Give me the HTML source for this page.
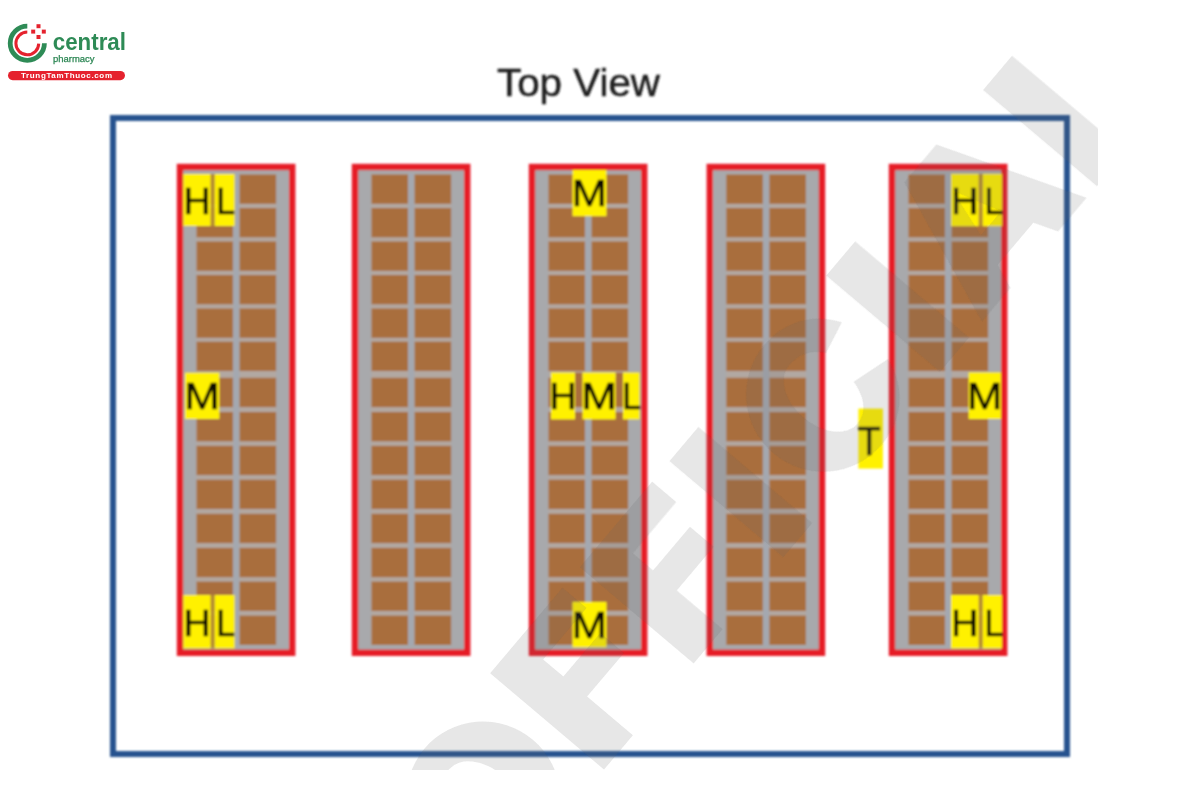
<!DOCTYPE html>
<html><head><meta charset="utf-8">
<style>
html,body{margin:0;padding:0;background:#fff;}
body{width:1200px;height:800px;overflow:hidden;position:relative;font-family:"Liberation Sans",sans-serif;}
svg{position:absolute;left:0;top:0;}
.lb text{font-family:"Liberation Sans",sans-serif;font-size:37.5px;fill:#0c0a00;stroke:#0c0a00;stroke-width:0.7px;}
</style></head><body>
<svg width="1200" height="800" viewBox="0 0 1200 800">
<defs>
<clipPath id="wmclip"><rect x="0" y="0" width="1097.5" height="770"/></clipPath>
<clipPath id="rk5"><rect x="880" y="160" width="121.9" height="500"/></clipPath>
<filter id="soft" x="-5%" y="-5%" width="110%" height="110%"><feGaussianBlur stdDeviation="0.8"/></filter>
<filter id="soft2" x="-5%" y="-5%" width="110%" height="110%"><feGaussianBlur stdDeviation="0.4"/></filter>
</defs>
<g filter="url(#soft)">
<text x="497" y="95.5" font-family="Liberation Sans, sans-serif" font-size="39" fill="#1c1c1c" stroke="#1c1c1c" stroke-width="0.5" textLength="163" lengthAdjust="spacingAndGlyphs">Top View</text>
<rect x="113" y="118" width="954" height="636" fill="none" stroke="#27538f" stroke-width="6"/>
<rect x="180" y="167" width="112.2" height="485.8" fill="#a8a9ac" stroke="#e61c25" stroke-width="6.4"/>
<rect x="196.5" y="174.5" width="79.6" height="470.4" fill="#b2a8a2"/>
<rect x="233.0" y="173.5" width="6.6" height="472.4" fill="#a4a8b0"/>
<rect x="196.5" y="174.5" width="36.5" height="29.3" fill="#a96e3e"/>
<rect x="239.6" y="174.5" width="36.5" height="29.3" fill="#a96e3e"/>
<rect x="196.5" y="208" width="36.5" height="29.3" fill="#a96e3e"/>
<rect x="239.6" y="208" width="36.5" height="29.3" fill="#a96e3e"/>
<rect x="196.5" y="241.5" width="36.5" height="29.3" fill="#a96e3e"/>
<rect x="239.6" y="241.5" width="36.5" height="29.3" fill="#a96e3e"/>
<rect x="196.5" y="275" width="36.5" height="29.3" fill="#a96e3e"/>
<rect x="239.6" y="275" width="36.5" height="29.3" fill="#a96e3e"/>
<rect x="196.5" y="308.5" width="36.5" height="29.3" fill="#a96e3e"/>
<rect x="239.6" y="308.5" width="36.5" height="29.3" fill="#a96e3e"/>
<rect x="196.5" y="341.7" width="36.5" height="29.3" fill="#a96e3e"/>
<rect x="239.6" y="341.7" width="36.5" height="29.3" fill="#a96e3e"/>
<rect x="196.5" y="377.8" width="36.5" height="29.3" fill="#a96e3e"/>
<rect x="239.6" y="377.8" width="36.5" height="29.3" fill="#a96e3e"/>
<rect x="196.5" y="412" width="36.5" height="29.3" fill="#a96e3e"/>
<rect x="239.6" y="412" width="36.5" height="29.3" fill="#a96e3e"/>
<rect x="196.5" y="445.8" width="36.5" height="29.3" fill="#a96e3e"/>
<rect x="239.6" y="445.8" width="36.5" height="29.3" fill="#a96e3e"/>
<rect x="196.5" y="479.7" width="36.5" height="29.3" fill="#a96e3e"/>
<rect x="239.6" y="479.7" width="36.5" height="29.3" fill="#a96e3e"/>
<rect x="196.5" y="513.8" width="36.5" height="29.3" fill="#a96e3e"/>
<rect x="239.6" y="513.8" width="36.5" height="29.3" fill="#a96e3e"/>
<rect x="196.5" y="547.9" width="36.5" height="29.3" fill="#a96e3e"/>
<rect x="239.6" y="547.9" width="36.5" height="29.3" fill="#a96e3e"/>
<rect x="196.5" y="581.6" width="36.5" height="29.3" fill="#a96e3e"/>
<rect x="239.6" y="581.6" width="36.5" height="29.3" fill="#a96e3e"/>
<rect x="196.5" y="615.6" width="36.5" height="29.3" fill="#a96e3e"/>
<rect x="239.6" y="615.6" width="36.5" height="29.3" fill="#a96e3e"/>
<rect x="355" y="167" width="112.2" height="485.8" fill="#a8a9ac" stroke="#e61c25" stroke-width="6.4"/>
<rect x="371.5" y="174.5" width="79.6" height="470.4" fill="#b2a8a2"/>
<rect x="408.0" y="173.5" width="6.6" height="472.4" fill="#a4a8b0"/>
<rect x="371.5" y="174.5" width="36.5" height="29.3" fill="#a96e3e"/>
<rect x="414.6" y="174.5" width="36.5" height="29.3" fill="#a96e3e"/>
<rect x="371.5" y="208" width="36.5" height="29.3" fill="#a96e3e"/>
<rect x="414.6" y="208" width="36.5" height="29.3" fill="#a96e3e"/>
<rect x="371.5" y="241.5" width="36.5" height="29.3" fill="#a96e3e"/>
<rect x="414.6" y="241.5" width="36.5" height="29.3" fill="#a96e3e"/>
<rect x="371.5" y="275" width="36.5" height="29.3" fill="#a96e3e"/>
<rect x="414.6" y="275" width="36.5" height="29.3" fill="#a96e3e"/>
<rect x="371.5" y="308.5" width="36.5" height="29.3" fill="#a96e3e"/>
<rect x="414.6" y="308.5" width="36.5" height="29.3" fill="#a96e3e"/>
<rect x="371.5" y="341.7" width="36.5" height="29.3" fill="#a96e3e"/>
<rect x="414.6" y="341.7" width="36.5" height="29.3" fill="#a96e3e"/>
<rect x="371.5" y="377.8" width="36.5" height="29.3" fill="#a96e3e"/>
<rect x="414.6" y="377.8" width="36.5" height="29.3" fill="#a96e3e"/>
<rect x="371.5" y="412" width="36.5" height="29.3" fill="#a96e3e"/>
<rect x="414.6" y="412" width="36.5" height="29.3" fill="#a96e3e"/>
<rect x="371.5" y="445.8" width="36.5" height="29.3" fill="#a96e3e"/>
<rect x="414.6" y="445.8" width="36.5" height="29.3" fill="#a96e3e"/>
<rect x="371.5" y="479.7" width="36.5" height="29.3" fill="#a96e3e"/>
<rect x="414.6" y="479.7" width="36.5" height="29.3" fill="#a96e3e"/>
<rect x="371.5" y="513.8" width="36.5" height="29.3" fill="#a96e3e"/>
<rect x="414.6" y="513.8" width="36.5" height="29.3" fill="#a96e3e"/>
<rect x="371.5" y="547.9" width="36.5" height="29.3" fill="#a96e3e"/>
<rect x="414.6" y="547.9" width="36.5" height="29.3" fill="#a96e3e"/>
<rect x="371.5" y="581.6" width="36.5" height="29.3" fill="#a96e3e"/>
<rect x="414.6" y="581.6" width="36.5" height="29.3" fill="#a96e3e"/>
<rect x="371.5" y="615.6" width="36.5" height="29.3" fill="#a96e3e"/>
<rect x="414.6" y="615.6" width="36.5" height="29.3" fill="#a96e3e"/>
<rect x="532" y="167" width="112.2" height="485.8" fill="#a8a9ac" stroke="#e61c25" stroke-width="6.4"/>
<rect x="548.5" y="174.5" width="79.6" height="470.4" fill="#b2a8a2"/>
<rect x="585.0" y="173.5" width="6.6" height="472.4" fill="#a4a8b0"/>
<rect x="548.5" y="174.5" width="36.5" height="29.3" fill="#a96e3e"/>
<rect x="591.6" y="174.5" width="36.5" height="29.3" fill="#a96e3e"/>
<rect x="548.5" y="208" width="36.5" height="29.3" fill="#a96e3e"/>
<rect x="591.6" y="208" width="36.5" height="29.3" fill="#a96e3e"/>
<rect x="548.5" y="241.5" width="36.5" height="29.3" fill="#a96e3e"/>
<rect x="591.6" y="241.5" width="36.5" height="29.3" fill="#a96e3e"/>
<rect x="548.5" y="275" width="36.5" height="29.3" fill="#a96e3e"/>
<rect x="591.6" y="275" width="36.5" height="29.3" fill="#a96e3e"/>
<rect x="548.5" y="308.5" width="36.5" height="29.3" fill="#a96e3e"/>
<rect x="591.6" y="308.5" width="36.5" height="29.3" fill="#a96e3e"/>
<rect x="548.5" y="341.7" width="36.5" height="29.3" fill="#a96e3e"/>
<rect x="591.6" y="341.7" width="36.5" height="29.3" fill="#a96e3e"/>
<rect x="548.5" y="377.8" width="36.5" height="29.3" fill="#a96e3e"/>
<rect x="591.6" y="377.8" width="36.5" height="29.3" fill="#a96e3e"/>
<rect x="548.5" y="412" width="36.5" height="29.3" fill="#a96e3e"/>
<rect x="591.6" y="412" width="36.5" height="29.3" fill="#a96e3e"/>
<rect x="548.5" y="445.8" width="36.5" height="29.3" fill="#a96e3e"/>
<rect x="591.6" y="445.8" width="36.5" height="29.3" fill="#a96e3e"/>
<rect x="548.5" y="479.7" width="36.5" height="29.3" fill="#a96e3e"/>
<rect x="591.6" y="479.7" width="36.5" height="29.3" fill="#a96e3e"/>
<rect x="548.5" y="513.8" width="36.5" height="29.3" fill="#a96e3e"/>
<rect x="591.6" y="513.8" width="36.5" height="29.3" fill="#a96e3e"/>
<rect x="548.5" y="547.9" width="36.5" height="29.3" fill="#a96e3e"/>
<rect x="591.6" y="547.9" width="36.5" height="29.3" fill="#a96e3e"/>
<rect x="548.5" y="581.6" width="36.5" height="29.3" fill="#a96e3e"/>
<rect x="591.6" y="581.6" width="36.5" height="29.3" fill="#a96e3e"/>
<rect x="548.5" y="615.6" width="36.5" height="29.3" fill="#a96e3e"/>
<rect x="591.6" y="615.6" width="36.5" height="29.3" fill="#a96e3e"/>
<rect x="709.8" y="167" width="112.2" height="485.8" fill="#a8a9ac" stroke="#e61c25" stroke-width="6.4"/>
<rect x="726.3" y="174.5" width="79.6" height="470.4" fill="#b2a8a2"/>
<rect x="762.8" y="173.5" width="6.6" height="472.4" fill="#a4a8b0"/>
<rect x="726.3" y="174.5" width="36.5" height="29.3" fill="#a96e3e"/>
<rect x="769.4" y="174.5" width="36.5" height="29.3" fill="#a96e3e"/>
<rect x="726.3" y="208" width="36.5" height="29.3" fill="#a96e3e"/>
<rect x="769.4" y="208" width="36.5" height="29.3" fill="#a96e3e"/>
<rect x="726.3" y="241.5" width="36.5" height="29.3" fill="#a96e3e"/>
<rect x="769.4" y="241.5" width="36.5" height="29.3" fill="#a96e3e"/>
<rect x="726.3" y="275" width="36.5" height="29.3" fill="#a96e3e"/>
<rect x="769.4" y="275" width="36.5" height="29.3" fill="#a96e3e"/>
<rect x="726.3" y="308.5" width="36.5" height="29.3" fill="#a96e3e"/>
<rect x="769.4" y="308.5" width="36.5" height="29.3" fill="#a96e3e"/>
<rect x="726.3" y="341.7" width="36.5" height="29.3" fill="#a96e3e"/>
<rect x="769.4" y="341.7" width="36.5" height="29.3" fill="#a96e3e"/>
<rect x="726.3" y="377.8" width="36.5" height="29.3" fill="#a96e3e"/>
<rect x="769.4" y="377.8" width="36.5" height="29.3" fill="#a96e3e"/>
<rect x="726.3" y="412" width="36.5" height="29.3" fill="#a96e3e"/>
<rect x="769.4" y="412" width="36.5" height="29.3" fill="#a96e3e"/>
<rect x="726.3" y="445.8" width="36.5" height="29.3" fill="#a96e3e"/>
<rect x="769.4" y="445.8" width="36.5" height="29.3" fill="#a96e3e"/>
<rect x="726.3" y="479.7" width="36.5" height="29.3" fill="#a96e3e"/>
<rect x="769.4" y="479.7" width="36.5" height="29.3" fill="#a96e3e"/>
<rect x="726.3" y="513.8" width="36.5" height="29.3" fill="#a96e3e"/>
<rect x="769.4" y="513.8" width="36.5" height="29.3" fill="#a96e3e"/>
<rect x="726.3" y="547.9" width="36.5" height="29.3" fill="#a96e3e"/>
<rect x="769.4" y="547.9" width="36.5" height="29.3" fill="#a96e3e"/>
<rect x="726.3" y="581.6" width="36.5" height="29.3" fill="#a96e3e"/>
<rect x="769.4" y="581.6" width="36.5" height="29.3" fill="#a96e3e"/>
<rect x="726.3" y="615.6" width="36.5" height="29.3" fill="#a96e3e"/>
<rect x="769.4" y="615.6" width="36.5" height="29.3" fill="#a96e3e"/>
<rect x="892" y="167" width="112.2" height="485.8" fill="#a8a9ac" stroke="#e61c25" stroke-width="6.4"/>
<rect x="908.5" y="174.5" width="79.6" height="470.4" fill="#b2a8a2"/>
<rect x="945.0" y="173.5" width="6.6" height="472.4" fill="#a4a8b0"/>
<rect x="908.5" y="174.5" width="36.5" height="29.3" fill="#a96e3e"/>
<rect x="951.6" y="174.5" width="36.5" height="29.3" fill="#a96e3e"/>
<rect x="908.5" y="208" width="36.5" height="29.3" fill="#a96e3e"/>
<rect x="951.6" y="208" width="36.5" height="29.3" fill="#a96e3e"/>
<rect x="908.5" y="241.5" width="36.5" height="29.3" fill="#a96e3e"/>
<rect x="951.6" y="241.5" width="36.5" height="29.3" fill="#a96e3e"/>
<rect x="908.5" y="275" width="36.5" height="29.3" fill="#a96e3e"/>
<rect x="951.6" y="275" width="36.5" height="29.3" fill="#a96e3e"/>
<rect x="908.5" y="308.5" width="36.5" height="29.3" fill="#a96e3e"/>
<rect x="951.6" y="308.5" width="36.5" height="29.3" fill="#a96e3e"/>
<rect x="908.5" y="341.7" width="36.5" height="29.3" fill="#a96e3e"/>
<rect x="951.6" y="341.7" width="36.5" height="29.3" fill="#a96e3e"/>
<rect x="908.5" y="377.8" width="36.5" height="29.3" fill="#a96e3e"/>
<rect x="951.6" y="377.8" width="36.5" height="29.3" fill="#a96e3e"/>
<rect x="908.5" y="412" width="36.5" height="29.3" fill="#a96e3e"/>
<rect x="951.6" y="412" width="36.5" height="29.3" fill="#a96e3e"/>
<rect x="908.5" y="445.8" width="36.5" height="29.3" fill="#a96e3e"/>
<rect x="951.6" y="445.8" width="36.5" height="29.3" fill="#a96e3e"/>
<rect x="908.5" y="479.7" width="36.5" height="29.3" fill="#a96e3e"/>
<rect x="951.6" y="479.7" width="36.5" height="29.3" fill="#a96e3e"/>
<rect x="908.5" y="513.8" width="36.5" height="29.3" fill="#a96e3e"/>
<rect x="951.6" y="513.8" width="36.5" height="29.3" fill="#a96e3e"/>
<rect x="908.5" y="547.9" width="36.5" height="29.3" fill="#a96e3e"/>
<rect x="951.6" y="547.9" width="36.5" height="29.3" fill="#a96e3e"/>
<rect x="908.5" y="581.6" width="36.5" height="29.3" fill="#a96e3e"/>
<rect x="951.6" y="581.6" width="36.5" height="29.3" fill="#a96e3e"/>
<rect x="908.5" y="615.6" width="36.5" height="29.3" fill="#a96e3e"/>
<rect x="951.6" y="615.6" width="36.5" height="29.3" fill="#a96e3e"/>
<g class="lb">
<rect x="210.6" y="174" width="4.10" height="52.00" fill="#b48c32"/>
<rect x="183.4" y="174" width="27.20" height="52.00" fill="#fff100"/>
<text x="197.00" y="214" text-anchor="middle">H</text>
<rect x="214.7" y="174" width="19.90" height="52.00" fill="#fff100"/>
<text transform="translate(216.20,214) scale(0.9,1)" x="0" y="0" text-anchor="start">L</text>
<rect x="185" y="372.7" width="34.40" height="46.30" fill="#fff100"/>
<text transform="translate(202.20,408.7) scale(1.13,1)" x="0" y="0" text-anchor="middle">M</text>
<rect x="210.6" y="595" width="4.10" height="53.40" fill="#b48c32"/>
<rect x="183.4" y="595" width="27.20" height="53.40" fill="#fff100"/>
<text x="197.00" y="636.2" text-anchor="middle">H</text>
<rect x="214.7" y="595" width="19.90" height="53.40" fill="#fff100"/>
<text transform="translate(216.20,636.2) scale(0.9,1)" x="0" y="0" text-anchor="start">L</text>
<rect x="572.5" y="170" width="34.00" height="46.20" fill="#fff100"/>
<text transform="translate(589.50,205.6) scale(1.13,1)" x="0" y="0" text-anchor="middle">M</text>
<rect x="575" y="372.5" width="7.5" height="6" fill="#a96e3e"/><rect x="615.6" y="372.5" width="7.4" height="6" fill="#a96e3e"/>
<rect x="551" y="372.5" width="24.00" height="46.90" fill="#fff100"/>
<text x="563.00" y="408.5" text-anchor="middle">H</text>
<rect x="582.5" y="372.5" width="33.10" height="46.90" fill="#fff100"/>
<text transform="translate(599.05,408.5) scale(1.13,1)" x="0" y="0" text-anchor="middle">M</text>
<rect x="623" y="372.5" width="16.60" height="46.90" fill="#fff100"/>
<text transform="translate(622.20,408.5) scale(0.9,1)" x="0" y="0" text-anchor="start">L</text>
<rect x="572.5" y="601.9" width="34.00" height="45.40" fill="#fff100"/>
<text transform="translate(589.50,637.7) scale(1.13,1)" x="0" y="0" text-anchor="middle">M</text>
<rect x="858.4" y="408.6" width="24.5" height="60" fill="#fff100"/><text transform="translate(869.2,454.6) scale(1,1.06)" x="0" y="0" text-anchor="middle">T</text>
<rect x="978.7" y="173.8" width="4.00" height="52.40" fill="#b48c32"/>
<rect x="951" y="173.8" width="27.70" height="52.40" fill="#fff100"/>
<text x="964.85" y="213.8" text-anchor="middle">H</text>
<rect x="982.7" y="173.8" width="19.20" height="52.40" fill="#fff100"/>
<text transform="translate(984.40,213.8) scale(0.9,1)" x="0" y="0" text-anchor="start">L</text>
<rect x="968.6" y="372.4" width="32.30" height="46.60" fill="#fff100"/>
<text transform="translate(984.75,408.6) scale(1.13,1)" x="0" y="0" text-anchor="middle">M</text>
<rect x="978.7" y="595" width="4.00" height="53.40" fill="#b48c32"/>
<rect x="951" y="595" width="27.70" height="53.40" fill="#fff100"/>
<text x="964.85" y="636.2" text-anchor="middle">H</text>
<rect x="982.7" y="595" width="19.20" height="53.40" fill="#fff100"/>
<text transform="translate(984.40,636.2) scale(0.9,1)" x="0" y="0" text-anchor="start">L</text>
</g>
</g>
<!-- watermark -->
<g filter="url(#soft2)"><g clip-path="url(#wmclip)">
<g id="wm" transform="rotate(-49.8)" fill="#606060" fill-opacity="0.157">
<path transform="translate(-384.40,959.0) scale(0.10166,-0.10166)" d="M853 1491A753 758 0 1 0 853 -25A753 758 0 1 0 853 1491ZM853 1176A293 443 0 1 1 853 290A293 443 0 1 1 853 1176Z" fill-rule="evenodd"/>
<path transform="translate(-215.97,958) scale(0.10166,-0.10166)" d="M178 0H618V590H1181V895H618V1156H1280V1466H178Z" fill-rule="evenodd"/>
<path transform="translate(-77.10,958) scale(0.10166,-0.10166)" d="M178 0H618V590H1181V895H618V1156H1280V1466H178Z" fill-rule="evenodd"/>
<path transform="translate(61.77,958) scale(0.10166,-0.10166)" d="M178 0H618V1466H178Z" fill-rule="evenodd"/>
<path transform="translate(142.79,958) scale(0.10166,-0.10166)" d="M1519 1052C1400 1340 1150 1491 853 1491A753 758 0 0 1 853 -25C1170 -25 1430 150 1535 471L1148 585C1100 400 1000 290 853 290A293 443 0 0 0 853 1176C1010 1176 1120 1110 1188 977Z" fill-rule="evenodd"/>
<path transform="translate(304.73,958) scale(0.10166,-0.10166)" d="M178 0H618V1466H178Z" fill-rule="evenodd"/>
<path transform="translate(388.26,957.5) scale(0.10166,-0.10166)" d="M0 0L553 1466H1040L1593 0H1160L1069 242H524L433 0ZM642 555H951L796.5 1050Z" fill-rule="evenodd"/>
<path transform="translate(547.70,958) scale(0.10166,-0.10166)" d="M178 0V1466H618V335H1290V0Z" fill-rule="evenodd"/>
</g>
</g></g>
<!-- logo -->
<g id="logo" filter="url(#soft2)">
<path d="M27.3 26.1 A17.1 17.1 0 1 0 44.4 43.2" fill="none" stroke="#2e8b57" stroke-width="4.8"/>
<path d="M27.3 32 A11.4 11.4 0 1 0 38.7 43.6" fill="none" stroke="#e5242e" stroke-width="3"/>
<g fill="#e5242e">
<rect x="36.5" y="24.2" width="4" height="4"/>
<rect x="31.2" y="29.6" width="4" height="4"/>
<rect x="41.8" y="29.6" width="4" height="4"/>
<rect x="36.5" y="35" width="4" height="4"/>
</g>
<text x="52.8" y="50.1" font-family="Liberation Sans, sans-serif" font-weight="bold" font-size="23" fill="#2e8b57" textLength="73.2" lengthAdjust="spacingAndGlyphs">central</text>
<text x="53" y="62" font-family="Liberation Sans, sans-serif" font-size="9.5" fill="#2a8552" stroke="#2a8552" stroke-width="0.25" textLength="41.5" lengthAdjust="spacingAndGlyphs">pharmacy</text>
<rect x="8" y="71" width="117" height="9.2" rx="4.6" fill="#e5242e"/>
<text x="21" y="78.3" font-family="Liberation Sans, sans-serif" font-weight="bold" font-size="8" fill="#fff" textLength="91" lengthAdjust="spacing">TrungTamThuoc.com</text>
</g>
</svg>
</body></html>
